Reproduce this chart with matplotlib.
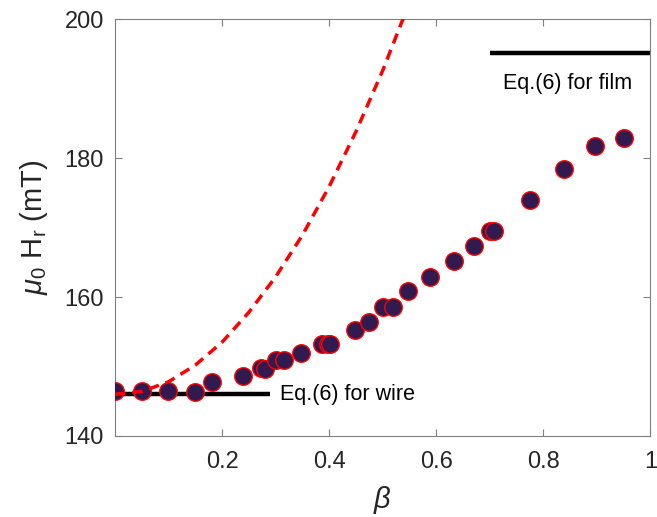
import matplotlib
matplotlib.use('Agg')
import matplotlib.pyplot as plt

plt.rcParams['font.family'] = ['Liberation Sans', 'DejaVu Sans']
plt.rcParams['mathtext.fontset'] = 'custom'
plt.rcParams['mathtext.rm'] = 'Liberation Sans'
plt.rcParams['mathtext.it'] = 'Liberation Sans:italic'

# measured resonance field vs beta
beta_meas = [0.0, 0.05, 0.099, 0.149, 0.181, 0.239, 0.273, 0.281, 0.30, 0.316,
             0.347, 0.387, 0.397, 0.402, 0.448, 0.474, 0.50, 0.52, 0.548,
             0.589, 0.633, 0.671, 0.701, 0.708, 0.775, 0.838, 0.896, 0.95]
h_meas = [146.5, 146.5, 146.5, 146.4, 147.7, 148.6, 149.8, 149.7, 150.9, 150.9,
          152.0, 153.2, 153.2, 153.2, 155.3, 156.4, 158.6, 158.6, 160.8,
          162.9, 165.2, 167.4, 169.5, 169.5, 174.0, 178.4, 181.7, 182.9]

# theory curve (red dashed)
beta_curve = [0.0, 0.05, 0.1, 0.15, 0.2, 0.25, 0.3, 0.35, 0.4, 0.45, 0.5, 0.55]
h_curve = [146.0, 146.4, 147.8, 150.2, 153.5, 157.8, 162.9, 168.9, 175.9, 183.8, 192.6, 202.4]

# Eq.(6) limits
wire_beta = [0.0, 0.29]
wire_h = [146.0, 146.0]
film_beta = [0.7, 1.0]
film_h = [195.1, 195.1]

xticks = [0.2, 0.4, 0.6, 0.8, 1.0]
xtick_labels = ['0.2', '0.4', '0.6', '0.8', '1']
yticks = [140, 160, 180, 200]

fig = plt.figure(figsize=(6.57, 5.17), dpi=100)
ax = fig.add_axes([0.175, 0.1567, 0.815, 0.8063])

ax.plot(wire_beta, wire_h, color='black', linewidth=3.2, solid_capstyle='butt', zorder=2)
ax.plot(film_beta, film_h, color='black', linewidth=3.2, solid_capstyle='butt', zorder=2)
ax.plot(beta_curve, h_curve, color='red', linestyle=(0, (3, 2.0)), linewidth=2.5, zorder=4)
ax.plot(beta_meas, h_meas, linestyle='none', marker='o', markersize=12.6,
        markerfacecolor='#301a4f', markeredgecolor='red', markeredgewidth=1.0, zorder=3)

ax.text(0.309, 145.9, 'Eq.(6) for wire', fontsize=15.5, ha='left', va='center', color='black')
ax.text(0.724, 190.8, 'Eq.(6) for film', fontsize=15.5, ha='left', va='center', color='black')

ax.set_xlim(0, 1)
ax.set_ylim(140, 200)
ax.set_xticks(xticks)
ax.set_xticklabels(xtick_labels)
ax.set_yticks(yticks)
ax.tick_params(direction='in', top=True, right=True, length=5, width=0.8,
               color='#808080', labelcolor='#262626', labelsize=17)
ax.tick_params(axis='x', pad=11)
ax.tick_params(axis='y', pad=8)
for s in ax.spines.values():
    s.set_color('#808080')
    s.set_linewidth(0.8)

ax.set_xlabel(r'$\beta$', fontsize=21, color='#262626', labelpad=8)
ax.set_ylabel(r'$\mu_0\ \mathrm{H_r}$ (mT)', fontsize=21, color='#262626', labelpad=10)

fig.savefig('out.png', dpi=100)
